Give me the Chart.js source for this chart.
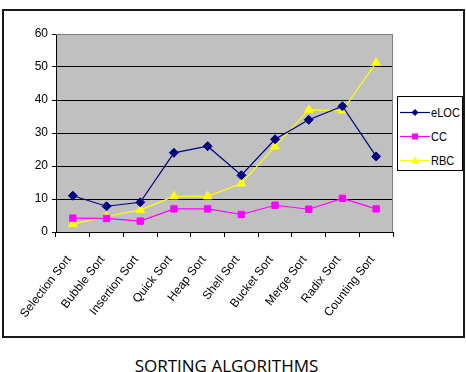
<!DOCTYPE html>
<html>
<head>
<meta charset="utf-8">
<script src="https://cdn.jsdelivr.net/npm/chart.js@4.4.1/dist/chart.umd.min.js"></script>
<style>
    html, body { margin: 0; padding: 0; background: #fff; }
    body { width: 466px; height: 372px; position: relative; overflow: hidden; }
    #frame { position: absolute; left: 2px; top: 9px; width: 459px; height: 325px; border: 2px solid #1a1a1a; }
    #frame canvas { display: block; }
    #legend { position: absolute; left: 397px; top: 96px; width: 64px; height: 70px; border: 1px solid #000;
              background: #fff; padding-top: 3px; box-sizing: content-box; overflow: hidden;
              font: 13px "Liberation Sans", Arial, sans-serif; color: #000; }
    #legend .row { height: 24px; display: flex; align-items: center; white-space: nowrap; }
    #legend canvas { display: block; margin-left: 2px; margin-right: 1px; }
    #legend span { display: inline-block; transform: scaleX(0.85); transform-origin: left center; }
    #caption { position: absolute; left: 0; top: 357px; width: 453px; text-align: center;
               font: 17px/17px "Open Sans", sans-serif; color: #000; }
</style>
</head>
<body>
<div id="frame"><canvas id="chart" width="459" height="325"></canvas></div>
<div id="legend"></div>
<div id="caption">SORTING ALGORITHMS</div>

<script>
const categories = ['Selection Sort', 'Bubble Sort', 'Insertion Sort', 'Quick Sort', 'Heap Sort',
                    'Shell Sort', 'Bucket Sort', 'Merge Sort', 'Radix Sort', 'Counting Sort'];
const elocValues = [11, 7.8, 9, 24, 26, 17.2, 28.1, 34, 38.1, 22.9];
const ccValues   = [4.2, 4.1, 3.3, 7, 7, 5.3, 8.1, 6.9, 10.2, 7];
const rbcValues  = [2.4, 4.7, 6.7, 10.8, 10.8, 14.7, 25.9, 37, 36.8, 51.3];
const yTicks = { min: 0, max: 60, step: 10 };

const sans = '"Liberation Sans", Arial, sans-serif';

const plotBackground = {
    id: 'plotBackground',
    beforeDraw(chart) {
        const { ctx, chartArea: a } = chart;
        ctx.save();
        ctx.fillStyle = '#c0c0c0';
        ctx.fillRect(a.left, a.top, a.right - a.left, a.bottom - a.top);
        ctx.restore();
    },
    beforeDatasetsDraw(chart) {
        const { ctx, chartArea: a } = chart;
        ctx.save();
        ctx.strokeStyle = '#808080';
        ctx.lineWidth = 1;
        ctx.beginPath();
        ctx.moveTo(a.left, a.top + 0.5);
        ctx.lineTo(a.right - 0.5, a.top + 0.5);
        ctx.lineTo(a.right - 0.5, a.bottom);
        ctx.stroke();
        ctx.restore();
    }
};

const chart = new Chart(document.getElementById('chart'), {
    type: 'line',
    data: {
        labels: categories,
        datasets: [
            {
                label: 'eLOC',
                data: elocValues,
                borderColor: '#000080',
                backgroundColor: '#000080',
                borderWidth: 1.2,
                pointStyle: 'rectRot',
                pointRadius: 4.5,
                pointBorderWidth: 1,
                tension: 0
            },
            {
                label: 'CC',
                data: ccValues,
                borderColor: '#ff00ff',
                backgroundColor: '#ff00ff',
                borderWidth: 1.2,
                pointStyle: 'rect',
                pointRadius: 4.5,
                pointBorderWidth: 1,
                tension: 0
            },
            {
                label: 'RBC',
                data: rbcValues,
                borderColor: '#ffff00',
                backgroundColor: '#ffff00',
                borderWidth: 1.2,
                pointStyle: 'triangle',
                pointRadius: 5,
                pointBorderWidth: 1,
                tension: 0
            }
        ]
    },
    options: {
        responsive: false,
        animation: false,
        devicePixelRatio: 1,
        layout: { padding: { top: 23, right: 70, bottom: 0, left: 0 } },
        plugins: {
            legend: { display: false },
            tooltip: { enabled: false }
        },
        scales: {
            x: {
                offset: true,
                grid: {
                    offset: true,
                    drawOnChartArea: false,
                    tickLength: 5,
                    tickColor: '#000'
                },
                border: { color: '#000', width: 1 },
                ticks: {
                    color: '#000',
                    font: { family: sans, size: 12 },
                    minRotation: 52,
                    maxRotation: 52,
                    autoSkip: false,
                    padding: 16,
                    labelOffset: -4
                },
                afterFit(scale) { scale.height = 104; }
            },
            y: {
                min: yTicks.min,
                max: yTicks.max,
                grid: {
                    color: ctx => (ctx.tick && ctx.tick.value === yTicks.max) ? '#808080' : '#000',
                    tickColor: '#000',
                    tickLength: 4,
                    lineWidth: 1
                },
                border: { color: '#000', width: 1 },
                ticks: {
                    stepSize: yTicks.step,
                    color: '#000',
                    padding: 4,
                    font: { family: sans, size: 12 }
                },
                afterFit(scale) { scale.width = 52; }
            }
        }
    },
    plugins: [plotBackground]
});

// legend box built from the chart's datasets: line + marker swatch, then the label
const markerShapes = { rectRot: 'diamond', rect: 'square', triangle: 'triangle' };
function makeSwatch(color, shape) {
    const c = document.createElement('canvas');
    c.width = 30; c.height = 11;
    const g = c.getContext('2d');
    g.strokeStyle = color; g.fillStyle = color; g.lineWidth = 1.2;
    g.beginPath(); g.moveTo(0, 5.5); g.lineTo(30, 5.5); g.stroke();
    g.beginPath();
    if (shape === 'diamond') {
        g.moveTo(15, 2); g.lineTo(18.5, 5.5); g.lineTo(15, 9); g.lineTo(11.5, 5.5);
    } else if (shape === 'square') {
        g.rect(12, 2.5, 6, 6);
    } else {
        g.moveTo(15, 1.5); g.lineTo(19, 8.5); g.lineTo(11, 8.5);
    }
    g.closePath(); g.fill();
    return c;
}
const legendEl = document.getElementById('legend');
chart.data.datasets.forEach(ds => {
    const row = document.createElement('div');
    row.className = 'row';
    row.appendChild(makeSwatch(ds.borderColor, markerShapes[ds.pointStyle]));
    const txt = document.createElement('span');
    txt.textContent = ds.label;
    row.appendChild(txt);
    legendEl.appendChild(row);
});
</script>
</body>
</html>
